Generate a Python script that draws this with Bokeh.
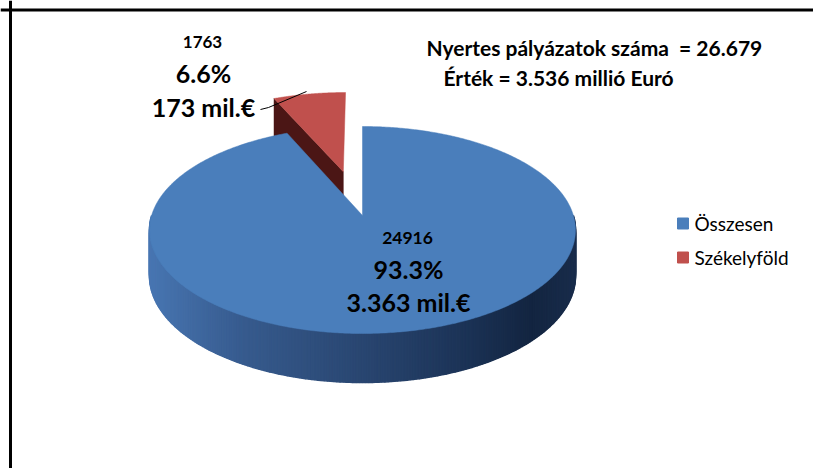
import numpy as np
from bokeh.plotting import figure
from bokeh.models import Range1d, Span
from bokeh.core.properties import value
from bokeh.embed import file_html
from bokeh.resources import INLINE

# ---------------- data ----------------
categories = ["Összesen", "Székelyföld"]
counts = [24916, 1763]
share_labels = ["93.3%", "6.6%"]
amount_labels = ["3.363 mil.€", "173 mil.€"]
total_count_text = "Nyertes pályázatok száma \u00a0= 26.679"
total_value_text = "Érték = 3.536 millió Euró"

# ---------------- style / layout ----------------
top_colors = ["#4a7ebb", "#c0504d"]
red_wall_color = "#4b1615"
explode = [0.0, 0.47]
FONT = "Lato"

W, H = 813, 468
p = figure(width=W, height=H, output_backend="svg", toolbar_location=None,
           x_range=Range1d(0, W), y_range=Range1d(H, 0),
           x_axis_type=None, y_axis_type=None, min_border=0)
p.outline_line_color = None
p.grid.visible = False
p.background_fill_color = "white"

# frame of the original slide (left and top edges visible)
p.add_layout(Span(location=10, dimension="height", line_color="black", line_width=3))
p.add_layout(Span(location=9.5, dimension="width", line_color="black", line_width=3))

# pie geometry (perspective ellipse)
CX, CY, A, B, T = 362.0, 229.5, 213.0, 103.5, -0.14
D0 = 45.7


def proj(u, v):
    den = 1 + T * v
    return CX + A * u * np.sqrt(1 - T * T) / den, CY + B * (v + T) / den


def depth(v):
    return D0 * (np.sqrt(1 - T * T) / (1 + T * v)) ** 0.5


total = float(sum(counts))
fracs = [c / total for c in counts]
# Excel: first slice starts at 12 o'clock, going clockwise
starts, ends = [], []
ang = 90.0
for f in fracs:
    starts.append(ang)
    ang -= 360.0 * f
    ends.append(ang)


def slice_geom(i, n=240):
    a0, a1 = np.radians(starts[i]), np.radians(ends[i])
    mid = (a0 + a1) / 2
    ou, ov = explode[i] * np.cos(mid), -explode[i] * np.sin(mid)
    th = np.linspace(a0, a1, n)
    u = ou + np.cos(th)
    v = ov - np.sin(th)
    return ou, ov, th, u, v


# --- red slice (drawn first; it is behind) ---
ou, ov, th, u, v = slice_geom(1)
ue, ve = ou + np.cos(np.radians(starts[1])), ov - np.sin(np.radians(starts[1]))
ax_, ay_ = proj(ou, ov)
ex_, ey_ = proj(ue, ve)
p.patch([ax_, ex_, ex_, ax_], [ay_, ey_, ey_ + depth(ve), ay_ + depth(ov)],
        fill_color=red_wall_color, line_color=red_wall_color, line_width=0.5)
xs, ys = proj(np.r_[ou, u], np.r_[ov, v])
p.patch(xs, ys, fill_color=top_colors[1], line_color=top_colors[1], line_width=0.5)

# --- blue slice ---
ou, ov, th, u, v = slice_geom(0, n=600)
stops_x = [0.0, 0.22, 0.5, 0.72, 0.9, 1.0]
stops_c = [(0x48, 0x76, 0xb2), (0x37, 0x5b, 0x8e), (0x29, 0x46, 0x71),
           (0x1d, 0x35, 0x59), (0x13, 0x25, 0x41), (0x19, 0x2c, 0x4b)]
th_side = np.radians(np.linspace(-180, 0, 241))
su, sv = ou + np.cos(th_side), ov - np.sin(th_side)
sx, sy = proj(su, sv)
sd = depth(sv)
xmin, xmax = sx.min(), sx.max()
qx, qy, qc = [], [], []
for k in range(len(sx) - 1):
    fx = ((sx[k] + sx[k + 1]) / 2 - xmin) / (xmax - xmin)
    rgb = [int(round(np.interp(fx, stops_x, [c[j] for c in stops_c]))) for j in range(3)]
    col = "#%02x%02x%02x" % tuple(rgb)
    qx.append([sx[k], sx[k + 1], sx[k + 1], sx[k]])
    qy.append([sy[k], sy[k + 1], sy[k + 1] + sd[k + 1], sy[k] + sd[k]])
    qc.append(col)
p.patches(qx, qy, fill_color=qc, line_color=qc, line_width=1.5)
xs, ys = proj(np.r_[ou, u], np.r_[ov, v])
p.patch(xs, ys, fill_color=top_colors[0], line_color=top_colors[0], line_width=0.5)


# ---------------- labels ----------------
def txt(x, y, s, size, bold=True, align="center"):
    p.text(x=[x], y=[y], text=[s], text_font=value(FONT),
           text_font_size=f"{size}px", text_font_style="bold" if bold else "normal",
           text_align=align, text_baseline="middle", text_color="black")


# blue slice
txt(407, 237, str(counts[0]), 17.5)
txt(408, 268, share_labels[0], 25)
txt(408, 301, amount_labels[0], 25)
# red slice
txt(202, 41, str(counts[1]), 17)
txt(203, 72, share_labels[1], 25)
txt(203, 106, amount_labels[1], 25)
p.line([260, 268, 306], [109, 107, 91], line_color="black", line_width=1)

# totals
txt(426, 47, total_count_text, 21, align="left")
txt(443, 77, total_value_text, 21, align="left")

# legend
for i, (name, col) in enumerate(zip(categories, top_colors)):
    yy = 223 + 34 * i
    p.scatter([682.5], [yy], marker="square", size=11, fill_color=col, line_color=col)
    txt(694, yy, name, 19, bold=False, align="left")

open("out.html", "w").write(file_html(p, INLINE))
